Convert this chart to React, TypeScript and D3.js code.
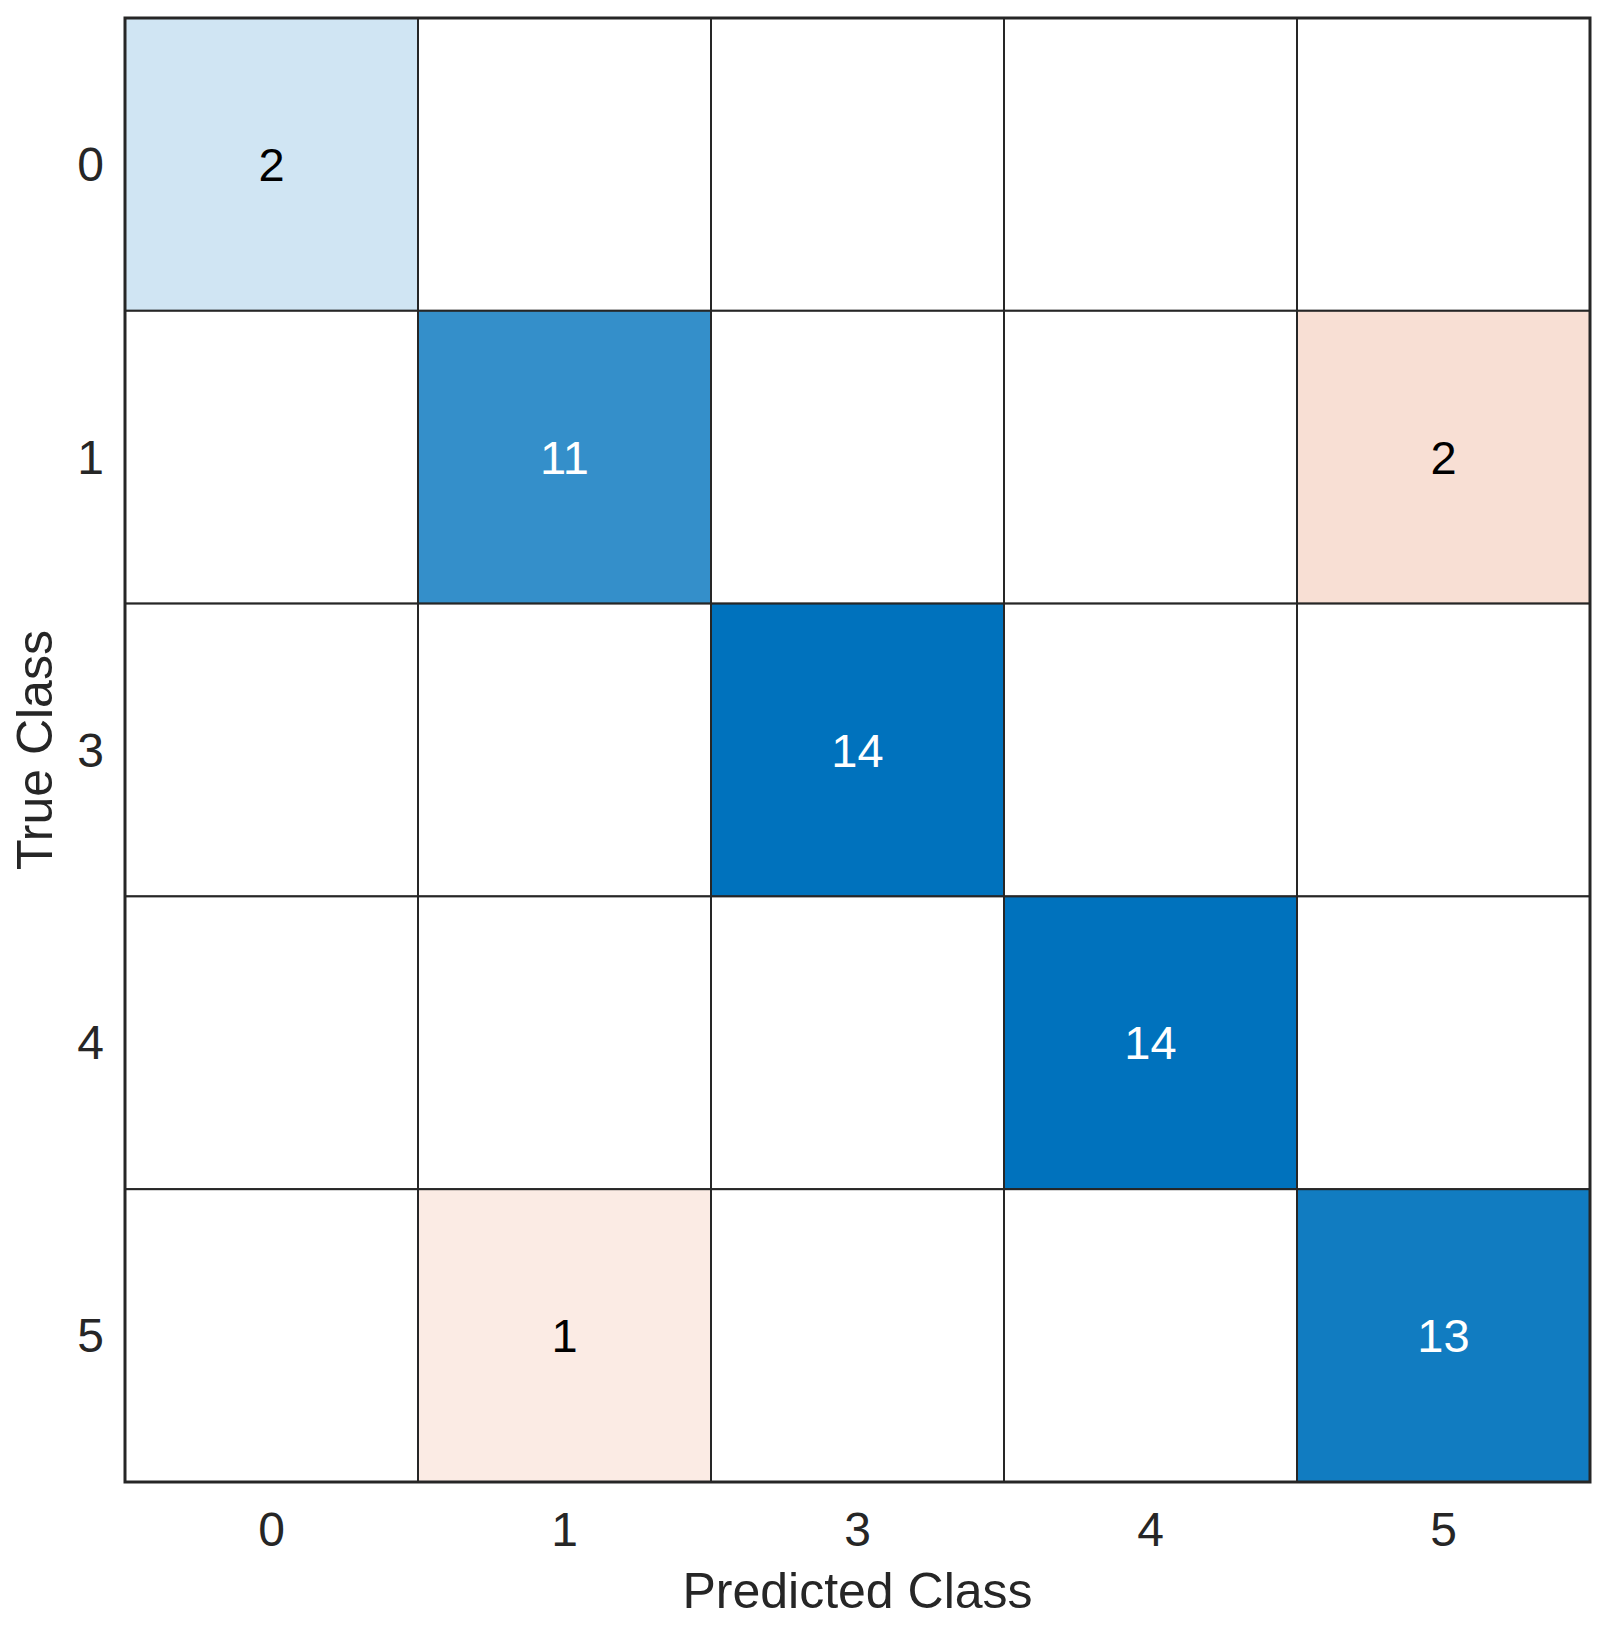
import React, { useEffect, useRef } from "react";
import * as d3 from "d3";

// class labels shared by both axes
const classes = ["0", "1", "3", "4", "5"];

// rows = true class, cols = predicted class
const counts = [
  [2, 0, 0, 0, 0],
  [0, 11, 0, 0, 2],
  [0, 0, 14, 0, 0],
  [0, 0, 0, 14, 0],
  [0, 1, 0, 0, 13],
];

const xLabel = "Predicted Class";
const yLabel = "True Class";

const W = 1606;
const H = 1630;
const FONT = "'Liberation Sans', Arial, Helvetica, sans-serif";

const App: React.FC = () => {
  const ref = useRef<SVGSVGElement | null>(null);

  useEffect(() => {
    if (!ref.current) return;
    const svg = d3.select(ref.current);
    svg.selectAll("*").remove();

    const left = 125;
    const top = 18;
    const right = 1590;
    const bottom = 1482;

    const x = d3.scaleBand<string>().domain(classes).range([left, right]);
    const y = d3.scaleBand<string>().domain(classes).range([top, bottom]);

    const maxVal = d3.max(counts.flat()) || 1;
    // non-zero cells start with a faint tint, like matlab's confusionchart
    const shade = d3.scaleLinear().domain([0, maxVal]).range([0.05, 1]);
    const blue = d3.interpolateRgb("#ffffff", "#0072bd");
    const red = d3.interpolateRgb("#ffffff", "#d95319");

    const cells = counts.flatMap((row, i) =>
      row.map((v, j) => ({ r: classes[i], c: classes[j], v, diag: i === j }))
    );

    const g = svg.append("g");

    g.selectAll("rect.cell")
      .data(cells)
      .enter()
      .append("rect")
      .attr("class", "cell")
      .attr("x", (d) => x(d.c)!)
      .attr("y", (d) => y(d.r)!)
      .attr("width", x.bandwidth())
      .attr("height", y.bandwidth())
      .attr("fill", (d) => (d.v === 0 ? "#ffffff" : d.diag ? blue(shade(d.v)) : red(shade(d.v))))
      .attr("stroke", "#262626")
      .attr("stroke-width", 2);

    g.selectAll("text.val")
      .data(cells.filter((d) => d.v > 0))
      .enter()
      .append("text")
      .attr("class", "val")
      .attr("x", (d) => x(d.c)! + x.bandwidth() / 2)
      .attr("y", (d) => y(d.r)! + y.bandwidth() / 2)
      .attr("text-anchor", "middle")
      .attr("dominant-baseline", "central")
      .attr("font-family", FONT)
      .attr("font-size", 47)
      .attr("fill", (d) => (shade(d.v) > 0.5 ? "#ffffff" : "#000000"))
      .text((d) => d.v);

    // outer box
    g.append("rect")
      .attr("x", left)
      .attr("y", top)
      .attr("width", right - left)
      .attr("height", bottom - top)
      .attr("fill", "none")
      .attr("stroke", "#262626")
      .attr("stroke-width", 3);

    // tick labels
    g.selectAll("text.xt")
      .data(classes)
      .enter()
      .append("text")
      .attr("x", (d) => x(d)! + x.bandwidth() / 2)
      .attr("y", 1546)
      .attr("text-anchor", "middle")
      .attr("font-family", FONT)
      .attr("font-size", 48)
      .attr("fill", "#262626")
      .text((d) => d);

    g.selectAll("text.yt")
      .data(classes)
      .enter()
      .append("text")
      .attr("x", 104)
      .attr("y", (d) => y(d)! + y.bandwidth() / 2)
      .attr("text-anchor", "end")
      .attr("dominant-baseline", "central")
      .attr("font-family", FONT)
      .attr("font-size", 48)
      .attr("fill", "#262626")
      .text((d) => d);

    g.append("text")
      .attr("x", (left + right) / 2)
      .attr("y", 1608)
      .attr("text-anchor", "middle")
      .attr("font-family", FONT)
      .attr("font-size", 50)
      .attr("fill", "#262626")
      .text(xLabel);

    g.append("text")
      .attr("transform", `translate(52, ${(top + bottom) / 2}) rotate(-90)`)
      .attr("text-anchor", "middle")
      .attr("font-family", FONT)
      .attr("font-size", 50)
      .attr("fill", "#262626")
      .text(yLabel);
  }, []);

  return (
    <svg
      ref={ref}
      width={W}
      height={H}
      style={{ position: "absolute", left: 0, top: 0, background: "#ffffff" }}
    />
  );
};

export default App;
